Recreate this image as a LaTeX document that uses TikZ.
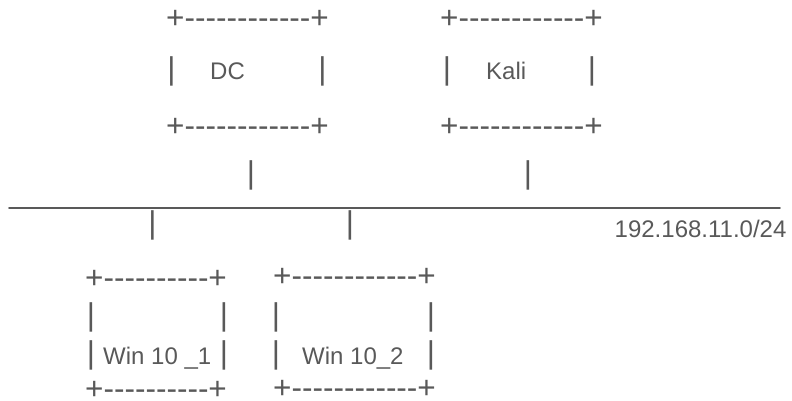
\documentclass[tikz,border=0pt]{standalone}
\usepackage{fontspec}
\setmainfont{Liberation Sans}
\definecolor{artgray}{RGB}{89,89,89}
\newcommand{\artsize}{\fontsize{31.5}{38}\selectfont}
\newcommand{\labsize}{\fontsize{24}{29}\selectfont}
\newcommand{\dashes}[1]{\foreach \k in {1,...,#1}{-\kern0pt}}
\tikzset{
  art/.style={font=\artsize, text=artgray, inner sep=0pt, anchor=base},
  border/.style={art, anchor=base west},
  lab/.style={font=\labsize, text=artgray, inner sep=0pt, anchor=base west},
  wire/.style={draw=artgray, line width=1.6pt}
}
\begin{document}
\begin{tikzpicture}[x=1pt, y=-1pt, line join=round, line cap=round]
	\useasboundingbox (0,0) rectangle (792,401);
	
	% Hộp DC
	\node[border] (dcTop) at (166,29) {+\dashes{12}+};
	\node[art] (dcL) at (171.5,80) {|};
	\node[lab] (dc) at (210,80) {DC};
	\node[art] (dcR) at (322.5,80) {|};
	\node[border] (dcBot) at (166,136) {+\dashes{12}+};
	
	% Hộp Kali
	\node[border] (kaliTop) at (440,29) {+\dashes{12}+};
	\node[art] (kaliL) at (447,80) {|};
	\node[lab] (kali) at (486,80) {Kali};
	\node[art] (kaliR) at (592,80) {|};
	\node[border] (kaliBot) at (440,136) {+\dashes{12}+};
	
	% Nối lên mạng
	\node[art] (dcLink) at (251,183) {|};
	\node[art] (kaliLink) at (528,183) {|};
	
	% Đường mạng
	\coordinate (netW) at (9,207.7);
	\coordinate (netE) at (780,207.7);
	\draw[wire] (netW) -- (netE);
	\node[lab] (net) at (614.5,237) {192.168.11.0/24};
	
	\node[art] (winALink) at (152.5,233.5) {|};
	\node[art] (winBLink) at (350,233.5) {|};
	
	% Hộp Win 10 _1
	\node[border] (winATop) at (85,288) {+\dashes{10}+};
	\node[art] (winAL1) at (91,325.5) {|};
	\node[art] (winAR1) at (224,325.5) {|};
	\node[art] (winAL2) at (91,363.5) {|};
	\node[lab] (winA) at (103,364) {Win 10 \_1};
	\node[art] (winAR2) at (224,363.5) {|};
	\node[border] (winABot) at (85,399) {+\dashes{10}+};
	
	% Hộp Win 10_2
	\node[border] (winBTop) at (273,286) {+\dashes{12}+};
	\node[art] (winBL1) at (276,325.5) {|};
	\node[art] (winBR1) at (431,325.5) {|};
	\node[art] (winBL2) at (276,363.5) {|};
	\node[lab] (winB) at (302,364) {Win 10\_2};
	\node[art] (winBR2) at (431,363.5) {|};
	\node[border] (winBBot) at (273,398) {+\dashes{12}+};
\end{tikzpicture}
\end{document}
